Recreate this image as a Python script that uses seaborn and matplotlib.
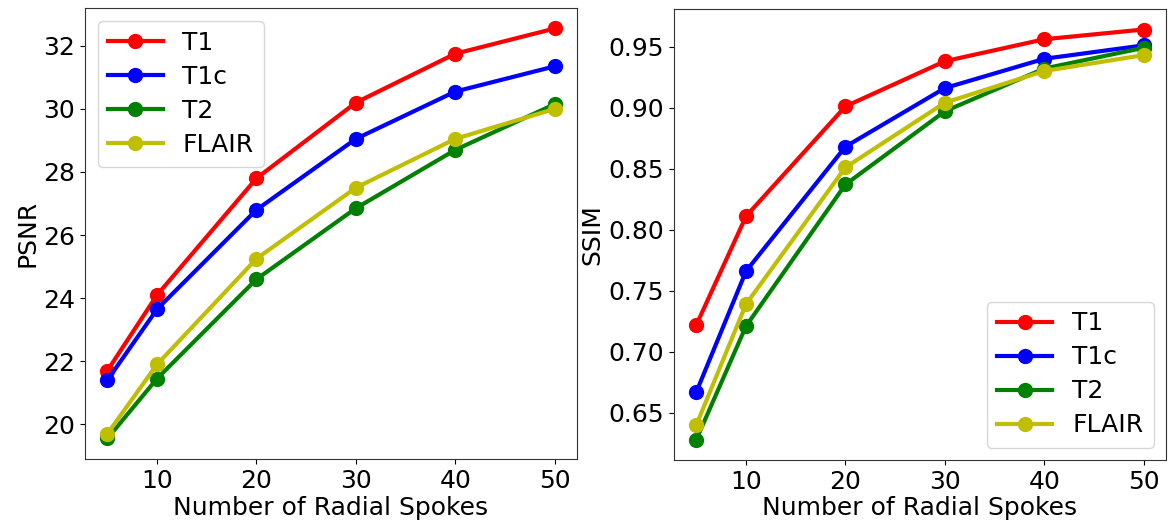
import pandas as pd
import matplotlib
matplotlib.use('Agg')
import matplotlib.pyplot as plt
import seaborn as sns

plt.rcParams['font.family'] = 'DejaVu Sans'

spokes = [5, 10, 20, 30, 40, 50]
modalities = ["T1", "T1c", "T2", "FLAIR"]
colors = ["r", "b", "g", "y"]

psnr_t1 = [21.7, 24.1, 27.8, 30.2, 31.75, 32.55]
psnr_t1c = [21.4, 23.65, 26.8, 29.05, 30.55, 31.35]
psnr_t2 = [19.55, 21.45, 24.6, 26.85, 28.7, 30.15]
psnr_flair = [19.7, 21.9, 25.25, 27.5, 29.05, 30.0]

ssim_t1 = [0.722, 0.811, 0.901, 0.938, 0.956, 0.964]
ssim_t1c = [0.667, 0.766, 0.868, 0.916, 0.940, 0.951]
ssim_t2 = [0.628, 0.721, 0.837, 0.897, 0.932, 0.949]
ssim_flair = [0.640, 0.739, 0.851, 0.904, 0.930, 0.943]


def to_long(series, metric):
    rows = []
    for name, vals in zip(modalities, series):
        for x, v in zip(spokes, vals):
            rows.append({"Spokes": x, metric: v, "Modality": name})
    return pd.DataFrame(rows)


psnr_df = to_long([psnr_t1, psnr_t1c, psnr_t2, psnr_flair], "PSNR")
ssim_df = to_long([ssim_t1, ssim_t1c, ssim_t2, ssim_flair], "SSIM")

fig = plt.figure(figsize=(11.7, 5.29), dpi=100)
ax1 = fig.add_axes([85 / 1170, 1 - 459 / 529, 492 / 1170, 451 / 529])
ax2 = fig.add_axes([674 / 1170, 1 - 460 / 529, 492 / 1170, 451 / 529])

palette = dict(zip(modalities, colors))
for ax, df, metric, loc in [(ax1, psnr_df, "PSNR", "upper left"),
                            (ax2, ssim_df, "SSIM", "lower right")]:
    sns.lineplot(data=df, x="Spokes", y=metric, hue="Modality",
                 palette=palette, marker="o", markersize=11,
                 markeredgewidth=0, linewidth=3, ax=ax)
    ax.set_xlabel("Number of Radial Spokes", fontsize=18, labelpad=2)
    ax.set_ylabel(metric, fontsize=18, labelpad=3)
    ax.set_xticks([10, 20, 30, 40, 50])
    ax.tick_params(labelsize=18)
    for s in ax.spines.values():
        s.set_color("#333333")
    leg = ax.legend(loc=loc, fontsize=18, handlelength=2.2, labelspacing=0.4)

ax1.set_yticks([20, 22, 24, 26, 28, 30, 32])
ax2.set_yticks([0.65, 0.70, 0.75, 0.80, 0.85, 0.90, 0.95])
ax2.set_yticklabels(["0.65", "0.70", "0.75", "0.80", "0.85", "0.90", "0.95"])

fig.savefig("out.png", dpi=100)
